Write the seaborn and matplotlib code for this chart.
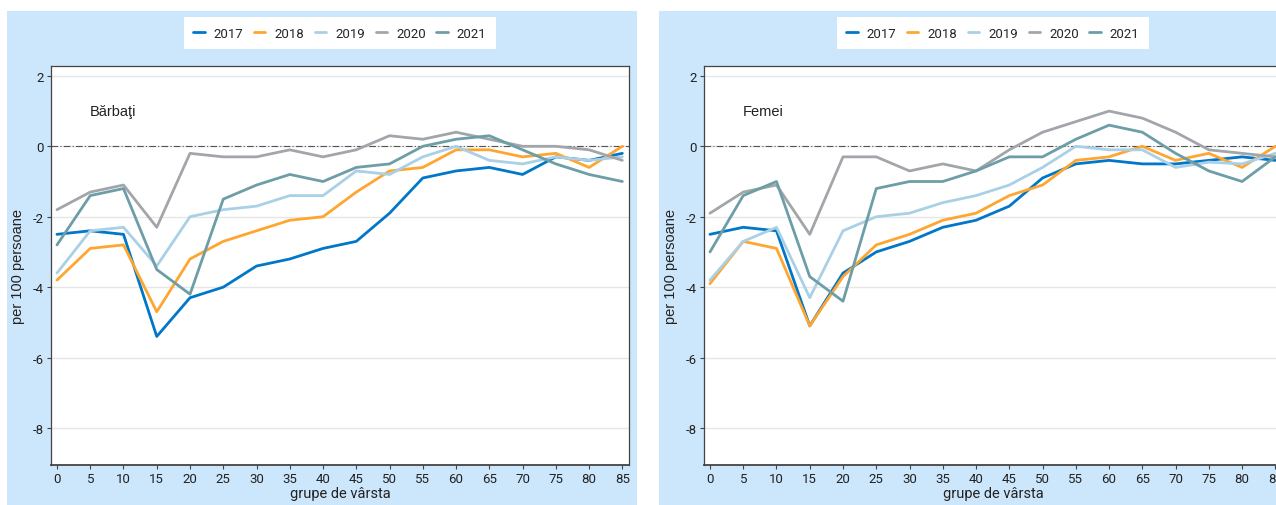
import seaborn as sns
import pandas as pd
import matplotlib.pyplot as plt
from matplotlib.patches import Rectangle

# age groups and yearly series (per 100 persoane)
ages = [0, 5, 10, 15, 20, 25, 30, 35, 40, 45, 50, 55, 60, 65, 70, 75, 80, 85]
years = ["2017", "2018", "2019", "2020", "2021"]
colors = ["#0077c8", "#ffa630", "#a9d0e6", "#a2a6aa", "#6d9ea8"]

barbati_2017 = [-2.5, -2.4, -2.5, -5.4, -4.3, -4.0, -3.4, -3.2, -2.9, -2.7, -1.9, -0.9, -0.7, -0.6, -0.8, -0.3, -0.4, -0.2]
barbati_2018 = [-3.8, -2.9, -2.8, -4.7, -3.2, -2.7, -2.4, -2.1, -2.0, -1.3, -0.7, -0.6, -0.1, -0.1, -0.3, -0.2, -0.6, 0.0]
barbati_2019 = [-3.6, -2.4, -2.3, -3.4, -2.0, -1.8, -1.7, -1.4, -1.4, -0.7, -0.8, -0.3, 0.0, -0.4, -0.5, -0.3, -0.4, -0.3]
barbati_2020 = [-1.8, -1.3, -1.1, -2.3, -0.2, -0.3, -0.3, -0.1, -0.3, -0.1, 0.3, 0.2, 0.4, 0.2, 0.0, 0.0, -0.1, -0.4]
barbati_2021 = [-2.8, -1.4, -1.2, -3.5, -4.2, -1.5, -1.1, -0.8, -1.0, -0.6, -0.5, 0.0, 0.2, 0.3, -0.1, -0.5, -0.8, -1.0]

femei_2017 = [-2.5, -2.3, -2.4, -5.1, -3.6, -3.0, -2.7, -2.3, -2.1, -1.7, -0.9, -0.5, -0.4, -0.5, -0.5, -0.4, -0.3, -0.4]
femei_2018 = [-3.9, -2.7, -2.9, -5.1, -3.7, -2.8, -2.5, -2.1, -1.9, -1.4, -1.1, -0.4, -0.3, 0.0, -0.4, -0.2, -0.6, 0.0]
femei_2019 = [-3.8, -2.7, -2.3, -4.3, -2.4, -2.0, -1.9, -1.6, -1.4, -1.1, -0.6, 0.0, -0.1, -0.1, -0.6, -0.45, -0.5, -0.2]
femei_2020 = [-1.9, -1.3, -1.1, -2.5, -0.3, -0.3, -0.7, -0.5, -0.7, -0.1, 0.4, 0.7, 1.0, 0.8, 0.4, -0.1, -0.2, -0.3]
femei_2021 = [-3.0, -1.4, -1.0, -3.7, -4.4, -1.2, -1.0, -1.0, -0.7, -0.3, -0.3, 0.2, 0.6, 0.4, -0.2, -0.7, -1.0, -0.3]

barbati = [barbati_2017, barbati_2018, barbati_2019, barbati_2020, barbati_2021]
femei = [femei_2017, femei_2018, femei_2019, femei_2020, femei_2021]


def to_long(series):
    rows = []
    for year, vals in zip(years, series):
        for a, v in zip(ages, vals):
            rows.append({"varsta": a, "valoare": v, "an": year})
    return pd.DataFrame(rows)


sns.set_theme(style="white")
plt.rcParams['font.family'] = ['Roboto', 'DejaVu Sans']

W, H = 1276, 506
fig = plt.figure(figsize=(W / 100, H / 100), dpi=100)
fig.patch.set_facecolor("white")

# light blue panel backgrounds
for x0 in (7, 659):
    fig.patches.append(Rectangle((x0 / W, 0), 630 / W, (H - 12) / H,
                                 transform=fig.transFigure, facecolor="#cce6fb",
                                 edgecolor="none", zorder=-5))

panels = [(barbati, "Bărbaţi", 51), (femei, "Femei", 704)]
for series, title, left in panels:
    ax = fig.add_axes([left / W, 1 - 466 / H, 578 / W, 399 / H])
    ax.set_zorder(2)
    ax.set_facecolor("white")
    df = to_long(series)
    sns.lineplot(data=df, x="varsta", y="valoare", hue="an", palette=colors,
                 linewidth=2, ax=ax, legend=False)
    ax.axhline(0, color="#555555", lw=0.8, ls=(0, (6, 2, 1, 2)), zorder=1)
    ax.set_xlim(-0.9, 86)
    ax.set_ylim(-9.05, 2.28)
    ax.set_xticks(ages)
    ax.set_yticks([2, 0, -2, -4, -6, -8])
    ax.set_yticklabels(["2", "0", "-2", "-4", "-6", "-8"])
    ax.yaxis.grid(True, color="#e6e6e6", lw=1)
    ax.set_axisbelow(True)
    for s in ax.spines.values():
        s.set_color("#444444")
        s.set_linewidth(0.9)
    ax.spines["bottom"].set_linewidth(1.3)
    ax.tick_params(axis="both", which="both", length=3, width=0.8, color="#444444",
                   labelsize=9.5, labelcolor="#222222", pad=2, direction="out",
                   bottom=True, left=True)
    ax.set_xlabel("grupe de vârsta", fontsize=10.5, color="#222222", labelpad=1)
    ax.set_ylabel("per 100 persoane", fontsize=10.5, color="#222222",
                  family=["Liberation Sans", "DejaVu Sans"], labelpad=6)
    ax.text(5, 1.0, title, fontsize=10.5, color="#222222",
            family=["Liberation Sans", "DejaVu Sans"], ha="left", va="center")
    leg = ax.legend(ax.get_lines()[:5], years, loc="center",
                    bbox_to_anchor=(0.5, 1 + (466 - 34 - 399) / 399), ncol=5,
                    frameon=True, fancybox=False, framealpha=1, edgecolor="white",
                    fontsize=9.5, handlelength=0.85, handletextpad=0.7,
                    columnspacing=0.8, borderpad=0.75)
    leg.get_frame().set_linewidth(0)

fig.savefig("out.png", dpi=100, facecolor="white")
